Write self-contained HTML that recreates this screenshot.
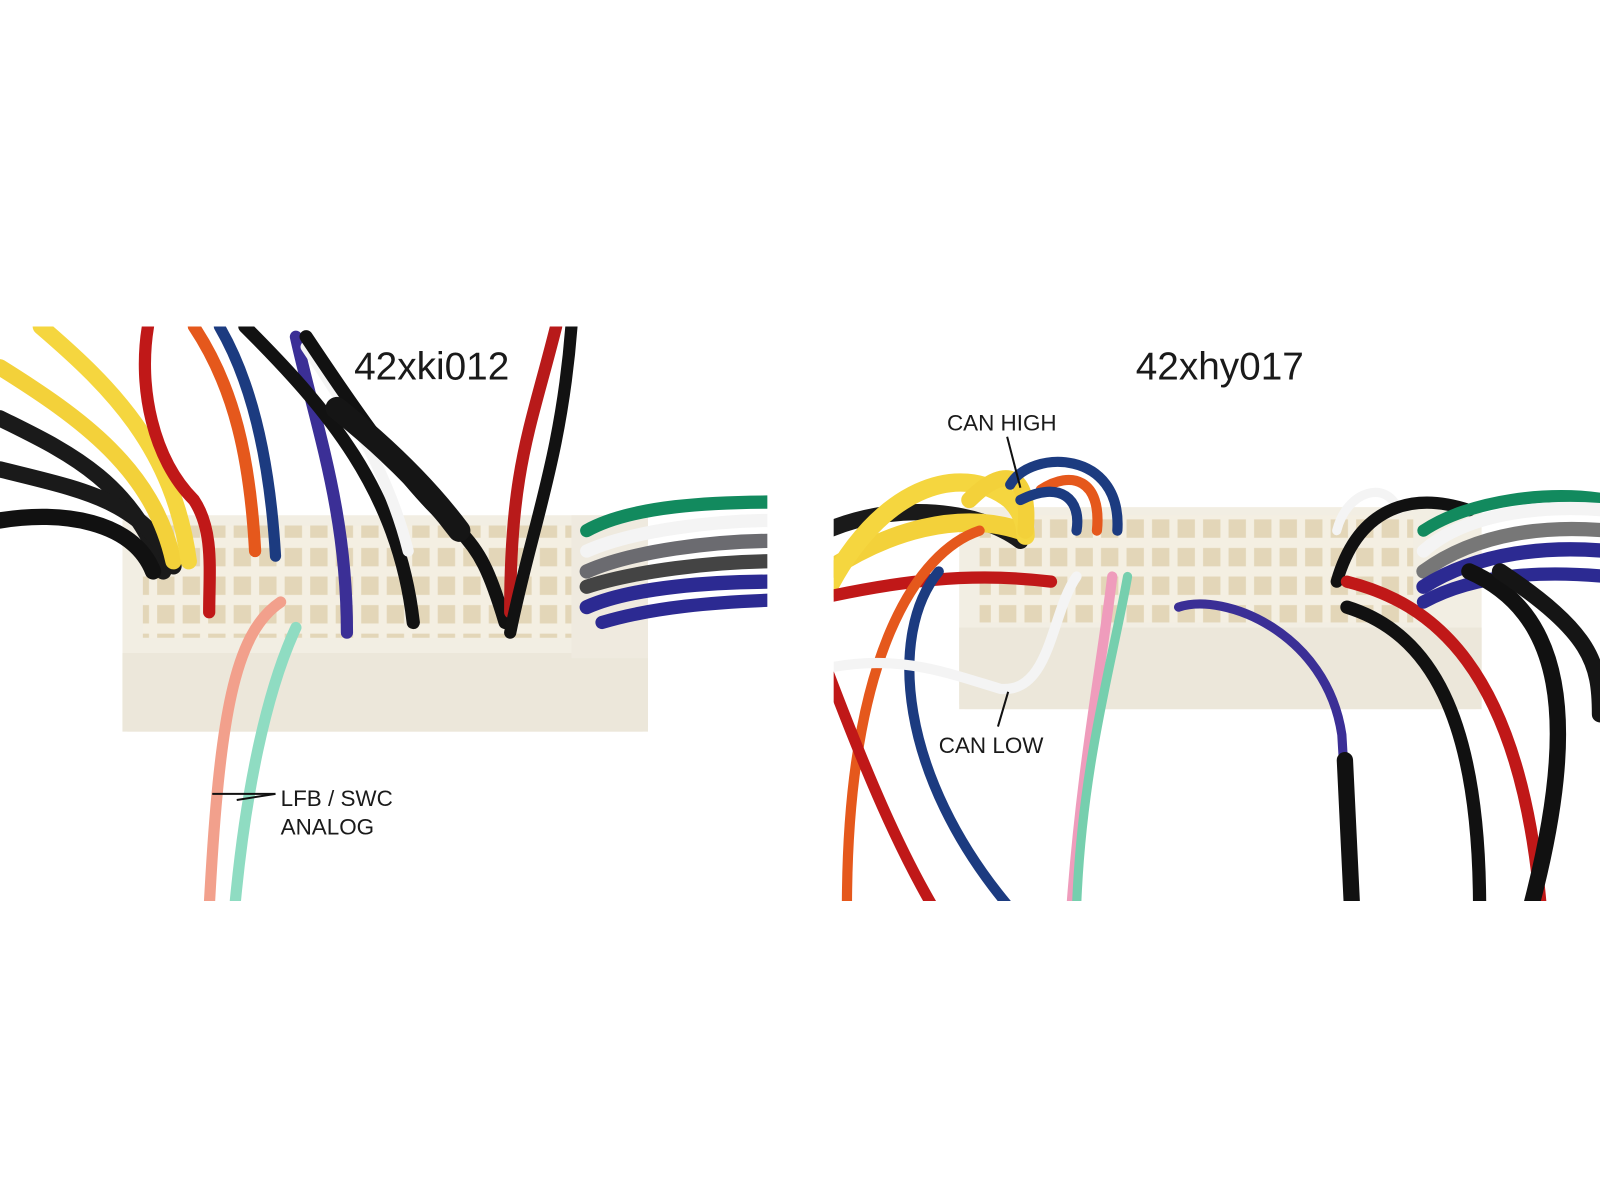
<!DOCTYPE html>
<html><head><meta charset="utf-8"><style>
html,body{margin:0;padding:0;background:#fff;}
svg{display:block;}
text{font-family:"Liberation Sans",sans-serif;fill:#1a1a1a;}
</style></head><body>
<svg width="1600" height="1200" viewBox="0 0 1568 1176" preserveAspectRatio="none" xmlns="http://www.w3.org/2000/svg">
<rect width="1568" height="1176" fill="#fff"/>
<defs>
<pattern id="cav" x="0" y="0" width="25" height="28" patternUnits="userSpaceOnUse">
<rect width="25" height="28" fill="#f4efe2"/>
<rect x="4" y="5" width="17" height="18" fill="#e3d6b8"/>
</pattern>
<clipPath id="cl"><rect x="0" y="320" width="752" height="563"/></clipPath>
<clipPath id="cr"><rect x="817" y="320" width="751" height="563"/></clipPath>
</defs>
<g clip-path="url(#cl)">
<rect x="120" y="505" width="515" height="212" rx="6" fill="#f2eee3"/>
<rect x="140" y="515" width="425" height="110" fill="url(#cav)"/>
<rect x="120" y="640" width="515" height="77" fill="#ece7da"/>
<rect x="560" y="505" width="75" height="140" fill="#efeadf"/>
<g fill="none" stroke-linecap="round">
<path d="M0,410 C60,440 130,470 160,560" stroke="#1a1a1a" stroke-width="16"/>
<path d="M0,460 C80,480 140,490 170,555" stroke="#1a1a1a" stroke-width="16"/>
<path d="M0,510 C60,500 130,510 150,560" stroke="#111" stroke-width="16"/>
<path d="M0,360 C80,410 150,460 170,550" stroke="#f3d13a" stroke-width="16"/>
<path d="M40,320 C110,380 170,440 185,550" stroke="#f5d63f" stroke-width="16"/>
<path d="M145,320 C135,380 150,450 190,490 C210,520 205,560 205,600" stroke="#c01818" stroke-width="12"/>
<path d="M190,320 C230,380 245,450 250,540" stroke="#e5581c" stroke-width="12"/>
<path d="M215,320 C250,380 265,460 270,545" stroke="#1c3b80" stroke-width="11"/>
<path d="M290,330 C310,420 340,500 340,620" stroke="#3b2f96" stroke-width="12"/>
<path d="M240,320 C320,400 390,480 405,610" stroke="#121212" stroke-width="13"/>
<path d="M300,340 C340,400 380,460 400,540" stroke="#f4f4f4" stroke-width="11"/>
<path d="M300,330 C340,390 400,480 450,520 C470,540 480,560 495,610" stroke="#111" stroke-width="13"/>
<path d="M330,400 C380,440 420,480 450,520" stroke="#151515" stroke-width="22"/>
<path d="M545,320 C520,420 500,460 500,600" stroke="#b81a1a" stroke-width="12"/>
<path d="M560,320 C550,450 520,520 500,620" stroke="#121212" stroke-width="12"/>
<path d="M575,520 C620,495 700,492 760,492" stroke="#128a5e" stroke-width="13"/>
<path d="M575,540 C620,520 700,510 760,510" stroke="#f4f4f4" stroke-width="13"/>
<path d="M575,560 C620,540 700,530 760,530" stroke="#6b6b70" stroke-width="14"/>
<path d="M575,575 C620,560 700,550 760,550" stroke="#444" stroke-width="14"/>
<path d="M575,595 C620,575 700,570 760,570" stroke="#2c2a92" stroke-width="14"/>
<path d="M590,610 C640,595 700,590 760,588" stroke="#2c2a92" stroke-width="13"/>
<path d="M275,590 C230,620 215,700 205,890" stroke="#f2a08c" stroke-width="11"/>
<path d="M290,615 C260,680 240,780 230,890" stroke="#8fdcc2" stroke-width="11"/>
</g>
</g>
<g clip-path="url(#cr)">
<rect x="940" y="497" width="512" height="198" rx="6" fill="#f2eee3"/>
<rect x="960" y="505" width="425" height="105" fill="url(#cav)"/>
<rect x="940" y="615" width="512" height="80" fill="#ece7da"/>
<g fill="none" stroke-linecap="round">
<path d="M810,520 C880,490 960,500 1000,530" stroke="#1a1a1a" stroke-width="16"/>
<path d="M810,560 C870,520 940,500 1000,520" stroke="#f3d13a" stroke-width="18"/>
<path d="M810,580 C860,480 940,450 990,490 C1005,505 1005,520 1005,525" stroke="#f5d63f" stroke-width="18"/>
<path d="M950,490 C990,450 1010,470 1005,520" stroke="#f3d13a" stroke-width="16"/>
<path d="M990,475 C1010,440 1100,440 1095,520" stroke="#1c3b80" stroke-width="10"/>
<path d="M1020,480 C1050,460 1080,470 1075,520" stroke="#e5581c" stroke-width="10"/>
<path d="M1000,490 C1040,470 1060,490 1055,520" stroke="#1c3b80" stroke-width="10"/>
<path d="M810,585 C880,570 950,560 1030,570" stroke="#c01818" stroke-width="12"/>
<path d="M960,520 C900,540 830,640 830,890" stroke="#e5581c" stroke-width="10"/>
<path d="M920,560 C870,620 880,760 990,890" stroke="#1c3b80" stroke-width="10"/>
<path d="M812,660 C850,760 880,830 915,890" stroke="#c01818" stroke-width="11"/>
<path d="M810,655 C880,640 930,660 980,675 C1030,680 1030,600 1055,565" stroke="#f4f4f4" stroke-width="10"/>
<path d="M1090,565 C1080,650 1060,750 1050,890" stroke="#ef9cbc" stroke-width="10"/>
<path d="M1105,565 C1090,650 1060,750 1055,890" stroke="#76cfae" stroke-width="9"/>
<path d="M1155,595 C1200,580 1300,620 1315,720 L1325,890" stroke="#3b2f96" stroke-width="9"/>
<path d="M1318,745 L1325,890" stroke="#111" stroke-width="16"/>
<path d="M1310,520 C1320,480 1360,470 1370,500" stroke="#f4f4f4" stroke-width="9"/>
<path d="M1310,570 C1330,500 1380,480 1440,500" stroke="#111" stroke-width="12"/>
<path d="M1320,570 C1400,590 1490,650 1510,890" stroke="#c01818" stroke-width="12"/>
<path d="M1320,595 C1400,620 1450,700 1450,890" stroke="#111" stroke-width="13"/>
<path d="M1395,520 C1440,490 1520,480 1575,490" stroke="#128a5e" stroke-width="12"/>
<path d="M1395,540 C1440,500 1520,495 1575,500" stroke="#f4f4f4" stroke-width="13"/>
<path d="M1395,560 C1450,520 1520,515 1575,520" stroke="#777" stroke-width="14"/>
<path d="M1395,575 C1450,540 1520,535 1575,540" stroke="#2c2a92" stroke-width="14"/>
<path d="M1395,590 C1450,560 1520,560 1575,565" stroke="#2c2a92" stroke-width="13"/>
<path d="M1440,560 C1530,600 1550,700 1500,890" stroke="#111" stroke-width="16"/>
<path d="M1470,560 C1560,620 1568,650 1568,700" stroke="#151515" stroke-width="16"/>
</g>
</g>
<g stroke="#111" stroke-width="2" fill="none">
<path d="M208,778 L270,778"/>
<path d="M232,784 L270,778"/>
<path d="M987,428 L1000,478"/>
<path d="M988,678 L978,712"/>
</g>
<text x="347" y="372" font-size="38">42xki012</text>
<text x="1113" y="372" font-size="38">42xhy017</text>
<text x="928" y="422" font-size="22">CAN HIGH</text>
<text x="920" y="738" font-size="22">CAN LOW</text>
<text x="275" y="790" font-size="22">LFB / SWC</text>
<text x="275" y="818" font-size="22">ANALOG</text>
</svg>
</body></html>
